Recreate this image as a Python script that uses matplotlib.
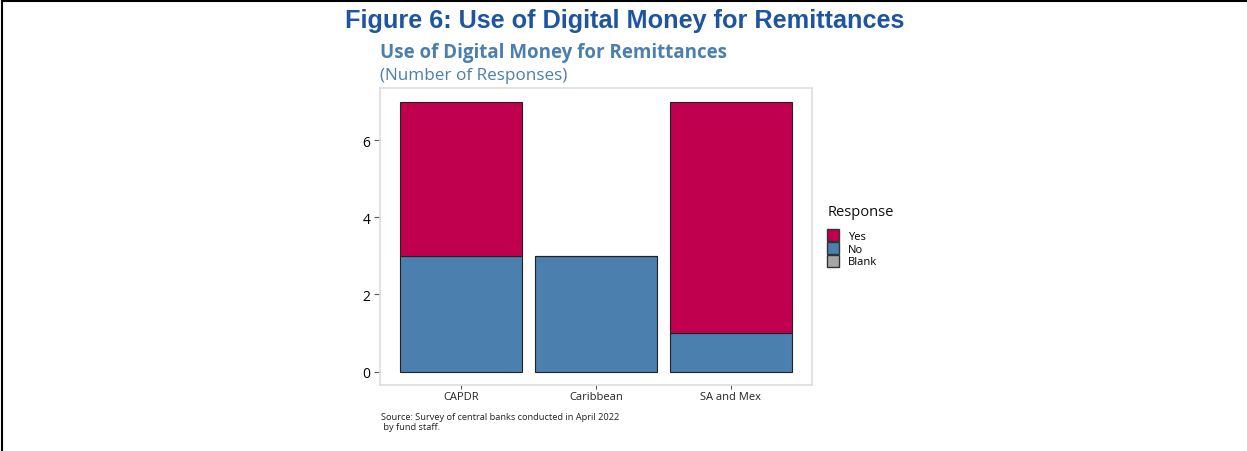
import matplotlib
matplotlib.use("Agg")
import matplotlib.pyplot as plt
from matplotlib.patches import Patch
from matplotlib.lines import Line2D

categories = ["CAPDR", "Caribbean", "SA and Mex"]
no_vals = [3, 3, 1]
yes_vals = [4, 0, 6]
blank_vals = [0, 0, 0]
yticks = [0, 2, 4, 6]
legend_labels = ["Yes", "No", "Blank"]

c_yes = "#C0004E"
c_no = "#4A7FAE"
c_blank = "#A6A6A6"

plt.rcParams['font.family'] = ['Open Sans', 'DejaVu Sans']

fig = plt.figure(figsize=(12.47, 4.52), dpi=100)
fig.patch.set_facecolor("white")

# outer frame lines
fig.add_artist(Line2D([0.0016, 1.0], [0.9956, 0.9956], transform=fig.transFigure, color="black", lw=1.5))
fig.add_artist(Line2D([0.0016, 0.0016], [0.0, 0.9956], transform=fig.transFigure, color="black", lw=1.5))

ax = fig.add_axes([0.3047, 0.146, 0.3464, 0.657])
x = list(range(len(categories)))
ax.bar(x, no_vals, width=0.9, color=c_no, edgecolor="#222222", linewidth=0.8)
ax.bar(x, yes_vals, width=0.9, bottom=no_vals, color=c_yes, edgecolor="#222222", linewidth=0.8)

ax.set_xlim(-0.6, 2.6)
ax.set_ylim(-0.35, 7.35)
ax.set_yticks(yticks)
ax.set_xticks(x)
ax.set_xticklabels(categories, fontsize=8, color="#222222")
ax.tick_params(axis="y", labelsize=10, length=4, color="#555555", pad=3)
ax.tick_params(axis="x", length=3, color="#555555", pad=1)
for s in ax.spines.values():
    s.set_color("#DDDDDD")
    s.set_linewidth(1.2)

fig.text(0.5012, 0.954, "Figure 6: Use of Digital Money for Remittances", ha="center", va="center",
         fontsize=18.2, fontweight="bold", color="#1F55A0", family=["Liberation Sans", "DejaVu Sans"])
fig.text(0.3047, 0.883, "Use of Digital Money for Remittances", ha="left", va="center",
         fontsize=13.5, fontweight="bold", color="#4A7FAE")
fig.text(0.3047, 0.832, "(Number of Responses)", ha="left", va="center",
         fontsize=12.3, color="#4A7FAE")

fig.text(0.6635, 0.529, "Response", ha="left", va="center", fontsize=10.5, color="#111111")
handles = [Patch(facecolor=c, edgecolor="#333333", label=l)
           for c, l in zip([c_yes, c_no, c_blank], legend_labels)]
leg = fig.legend(handles=handles, loc="upper left",
                 bbox_to_anchor=(0.6633, 0.492), frameon=False, fontsize=8,
                 handlelength=1.05, handleheight=1.35,
                 handletextpad=0.85, labelspacing=0.0, borderaxespad=0, borderpad=0)

fig.text(0.3055, 0.065, "Source: Survey of central banks conducted in April 2022\n by fund staff.",
         ha="left", va="center", fontsize=6.7, color="#222222", linespacing=1.25)

fig.savefig("out.png", dpi=100)
